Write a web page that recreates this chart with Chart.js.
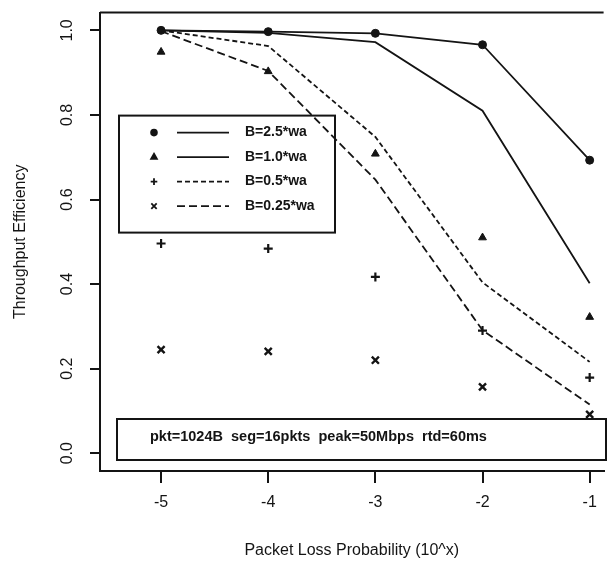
<!DOCTYPE html>
<html>
<head>
<meta charset="utf-8">
<script src="https://cdn.jsdelivr.net/npm/chart.js@4.4.0/dist/chart.umd.min.js"></script>
<style>
  html, body { margin: 0; padding: 0; background: #fff; }
  #wrap { width: 611px; height: 565px; }
</style>
</head>
<body>
<div id="wrap"><canvas id="chart" width="611" height="565"></canvas></div>
<script>
const xValues = [-5, -4, -3, -2, -1];
const xTicks = [-5, -4, -3, -2, -1];
const yTicks = [0, 0.2, 0.4, 0.6, 0.8, 1.0];

// measured points (markers)
const pts25 = [1.0, 0.997, 0.993, 0.966, 0.693];
const pts10 = [0.949, 0.903, 0.708, 0.510, 0.322];
const pts05 = [0.496, 0.484, 0.417, 0.290, 0.179];
const pts025 = [0.245, 0.241, 0.220, 0.157, 0.092];

// model curves (lines)
const line25 = [1.0, 0.997, 0.993, 0.966, 0.693];
const line10 = [1.0, 0.994, 0.972, 0.810, 0.402];
const line05 = [1.0, 0.963, 0.748, 0.404, 0.216];
const line025 = [0.998, 0.904, 0.647, 0.291, 0.115];

const labels = ['B=2.5*wa', 'B=1.0*wa', 'B=0.5*wa', 'B=0.25*wa'];
const note = 'pkt=1024B  seg=16pkts  peak=50Mbps  rtd=60ms';

const ink = '#141414';
const fam = '"Liberation Sans", Arial, sans-serif';

const toXY = arr => arr.map((v, i) => ({ x: xValues[i], y: v }));

const markers = [
  { pointStyle: 'circle', radius: 4, borderWidth: 1 },
  { pointStyle: 'triangle', radius: 4.5, borderWidth: 1 },
  { pointStyle: 'cross', radius: 4.5, borderWidth: 2.2 },
  { pointStyle: 'crossRot', radius: 5, borderWidth: 2.4 }
];
const dashes = [[], [], [5, 3], [8, 4]];
const pointSets = [pts25, pts10, pts05, pts025];
const lineSets = [line25, line10, line05, line025];

const datasets = [];
lineSets.forEach((arr, i) => {
  datasets.push({
    type: 'line',
    data: toXY(arr),
    borderColor: ink,
    borderWidth: 1.8,
    borderDash: dashes[i],
    pointRadius: 0,
    fill: false,
    tension: 0
  });
});
pointSets.forEach((arr, i) => {
  datasets.push({
    type: 'scatter',
    data: toXY(arr),
    showLine: false,
    pointStyle: markers[i].pointStyle,
    pointRadius: markers[i].radius,
    pointBorderWidth: markers[i].borderWidth,
    pointBackgroundColor: ink,
    pointBorderColor: ink
  });
});

// frame top line, rotated y labels, legend box and note box
const extras = {
  id: 'extras',
  afterDraw(chart) {
    const ctx = chart.ctx;
    const a = chart.chartArea;
    const ys = chart.scales.y;
    ctx.save();
    ctx.strokeStyle = ink;
    ctx.fillStyle = ink;

    // top frame line
    ctx.lineWidth = 2;
    ctx.beginPath();
    ctx.moveTo(a.left, a.top);
    ctx.lineTo(a.right, a.top);
    ctx.stroke();

    // y tick labels, parallel to axis
    ctx.font = '16px ' + fam;
    ctx.textAlign = 'center';
    ctx.textBaseline = 'middle';
    yTicks.forEach(v => {
      const py = ys.getPixelForValue(v);
      ctx.save();
      ctx.translate(68, py);
      ctx.rotate(-Math.PI / 2);
      ctx.fillText(v.toFixed(1), 0, 0);
      ctx.restore();
    });

    // legend box
    const lx = a.left + 19, ly = a.top + 103, lw = 216, lh = 117;
    ctx.lineWidth = 2;
    ctx.strokeRect(lx, ly, lw, lh);
    ctx.font = 'bold 14px ' + fam;
    ctx.textAlign = 'left';
    labels.forEach((lab, i) => {
      const ry = ly + 17 + i * 24.5;
      Chart.helpers.drawPoint(ctx, {
        pointStyle: markers[i].pointStyle,
        radius: markers[i].radius - 1.2,
        borderWidth: markers[i].borderWidth,
        rotation: 0
      }, lx + 35, ry);
      ctx.lineWidth = 1.8;
      ctx.setLineDash(dashes[i]);
      ctx.beginPath();
      ctx.moveTo(lx + 58, ry);
      ctx.lineTo(lx + 110, ry);
      ctx.stroke();
      ctx.setLineDash([]);
      ctx.fillText(lab, lx + 126, ry);
    });

    // note box
    const nx = a.left + 17, ny = 419, nw = 489, nh = 41;
    ctx.lineWidth = 2;
    ctx.strokeRect(nx, ny, nw, nh);
    ctx.font = 'bold 14.5px ' + fam;
    ctx.textBaseline = 'middle';
    ctx.fillText(note, nx + 33, ny + 18);

    ctx.restore();
  }
};

new Chart(document.getElementById('chart').getContext('2d'), {
  type: 'line',
  data: { datasets: datasets },
  options: {
    responsive: false,
    animation: false,
    layout: { padding: { top: 5, right: 0, left: 0, bottom: 0 } },
    plugins: { legend: { display: false }, tooltip: { enabled: false } },
    scales: {
      x: {
        type: 'linear',
        min: -5.57,
        max: -0.87,
        afterBuildTicks: s => { s.ticks = xTicks.map(v => ({ value: v })); },
        afterFit: s => { s.height = 94; },
        border: { display: true, color: ink, width: 2 },
        grid: { drawOnChartArea: false, drawTicks: true, tickLength: 12, color: ink, lineWidth: 2 },
        ticks: { color: ink, font: { family: fam, size: 16 }, padding: 10 },
        title: {
          display: true,
          text: 'Packet Loss Probability (10^x)',
          color: ink,
          font: { family: fam, size: 16 },
          padding: { top: 0, bottom: 5 }
        }
      },
      y: {
        type: 'linear',
        min: -0.042,
        max: 1.042,
        afterBuildTicks: s => { s.ticks = yTicks.map(v => ({ value: v })); },
        afterFit: s => { s.width = 100; },
        border: { display: true, color: ink, width: 2 },
        grid: { drawOnChartArea: false, drawTicks: true, tickLength: 10, color: ink, lineWidth: 2 },
        ticks: { color: 'rgba(0,0,0,0)', font: { family: fam, size: 16 } },
        title: {
          display: true,
          text: 'Throughput Efficiency',
          color: ink,
          font: { family: fam, size: 16 },
          padding: { top: 11, bottom: 0 }
        }
      }
    }
  },
  plugins: [extras]
});
</script>
</body>
</html>
